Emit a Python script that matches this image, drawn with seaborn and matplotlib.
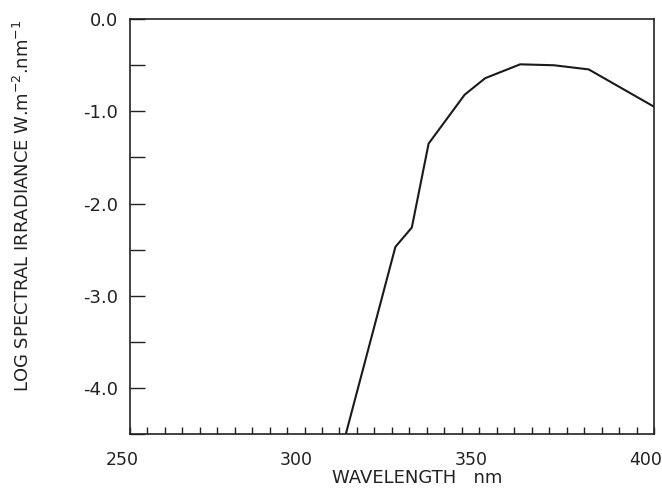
import numpy as np
import pandas as pd
import matplotlib
matplotlib.use("Agg")
import matplotlib.pyplot as plt
import matplotlib.transforms as mtransforms
from matplotlib.ticker import MultipleLocator
import seaborn as sns

# values
wavelength = [310, 326, 330.7, 335.5, 345.8, 351.7, 361.7, 371.3, 381.3, 400]
log_irradiance = [-4.76, -2.47, -2.26, -1.35, -0.82, -0.64, -0.49, -0.50, -0.545, -0.95]

x_ticks = [250, 300, 350, 400]
y_ticks = [0.0, -1.0, -2.0, -3.0, -4.0]

sns.set_style("ticks")
plt.rcParams["font.family"] = ["DejaVu Sans"]
plt.rcParams["mathtext.default"] = "regular"

df = pd.DataFrame({"wl": wavelength, "logE": log_irradiance})

fig = plt.figure(figsize=(6.62, 4.91), dpi=100)
ax = fig.add_axes([0.196, 0.116, 0.792, 0.845])

sns.lineplot(data=df, x="wl", y="logE", ax=ax, color="#1a1a1a", linewidth=1.5)

ax.set_xlim(250, 400)
ax.set_ylim(-4.5, 0)

ax.set_xticks(x_ticks)
ax.set_xticklabels([str(v) for v in x_ticks])
ax.xaxis.set_minor_locator(MultipleLocator(5))
ax.set_yticks(y_ticks)
ax.set_yticklabels([f"{v:.1f}" for v in y_ticks])
ax.yaxis.set_minor_locator(MultipleLocator(0.5))

ax.tick_params(axis="x", which="both", direction="in", length=5, width=1,
               pad=12.5, labelsize=12.5, colors="#222222")
ax.tick_params(axis="y", which="both", direction="in", length=11, width=1,
               pad=8.5, labelsize=13, colors="#222222")

# labels in the scan sit a little left of their ticks
shift = mtransforms.ScaledTranslation(-8 / 100, 0, fig.dpi_scale_trans)
for lbl in ax.get_xticklabels():
    lbl.set_transform(lbl.get_transform() + shift)

for s in ax.spines.values():
    s.set_linewidth(1.2)
    s.set_color("#222222")

ax.set_xlabel("WAVELENGTH   nm", fontsize=13, color="#222222")
ax.xaxis.set_label_coords(0.548, -0.085)
ax.set_ylabel(r"LOG SPECTRAL IRRADIANCE W.m$^{-2}$.nm$^{-1}$", fontsize=13,
              color="#222222")
ax.yaxis.set_label_coords(-0.185, 0.55)

fig.savefig("out.png", dpi=100)
